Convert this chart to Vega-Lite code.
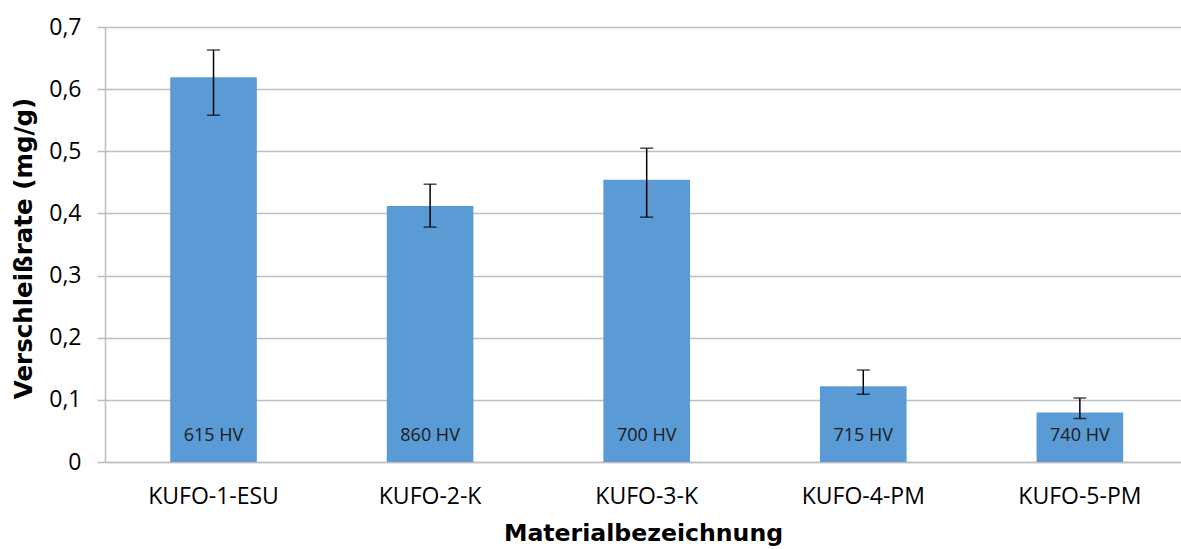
{
  "$schema": "https://vega.github.io/schema/vega-lite/v6.json",
  "width": 1076,
  "height": 435,
  "autosize": {"type": "none"},
  "padding": {"left": 105, "top": 27, "right": 0, "bottom": 87},
  "background": "white",
  "config": {
    "view": {"stroke": null},
    "font": "Open Sans"
  },
  "data": {
    "values": [
      {"material": "KUFO-1-ESU", "rate": 0.619, "lo": 0.558, "hi": 0.663, "haerte": "615 HV"},
      {"material": "KUFO-2-K", "rate": 0.412, "lo": 0.378, "hi": 0.447, "haerte": "860 HV"},
      {"material": "KUFO-3-K", "rate": 0.454, "lo": 0.394, "hi": 0.505, "haerte": "700 HV"},
      {"material": "KUFO-4-PM", "rate": 0.122, "lo": 0.109, "hi": 0.148, "haerte": "715 HV"},
      {"material": "KUFO-5-PM", "rate": 0.0795, "lo": 0.070, "hi": 0.103, "haerte": "740 HV"}
    ]
  },
  "encoding": {
    "x": {
      "field": "material",
      "type": "nominal",
      "sort": null,
      "scale": {"paddingInner": 0.6, "paddingOuter": 0.284, "align": 0.53},
      "axis": {
        "title": "Materialbezeichnung",
        "titleFont": "DejaVu Sans",
        "titleFontSize": 23.6,
        "titleFontWeight": "bold",
        "titleColor": "#000000",
        "titleX": 538,
        "titleY": 71,
        "titleBaseline": "middle",
        "titleAlign": "center",
        "labelAngle": 0,
        "labelFont": "Open Sans",
        "labelFontSize": 23,
        "labelColor": "#000000",
        "labelPadding": 23,
        "ticks": false,
        "tickSize": 0,
        "domainColor": "#BEBEBE",
        "domainWidth": 1.5,
        "grid": false
      }
    }
  },
  "layer": [
    {
      "mark": {"type": "bar", "color": "#5B9BD5"},
      "encoding": {
        "y": {
          "field": "rate",
          "type": "quantitative",
          "scale": {"domain": [0, 0.7], "nice": false, "zero": true},
          "axis": {
            "title": "Verschleißrate (mg/g)",
            "titleFont": "DejaVu Sans",
            "titleFontSize": 24.5,
            "titleFontWeight": "bold",
            "titleColor": "#000000",
            "titleAngle": -90,
            "titleX": -81,
            "titleY": 221,
            "titleAlign": "center",
            "titleBaseline": "middle",
            "values": [0, 0.1, 0.2, 0.3, 0.4, 0.5, 0.6, 0.7],
            "labelExpr": "datum.value == 0 ? '0' : replace(format(datum.value, '.1f'), '.', ',')",
            "labelFont": "Open Sans",
            "labelFontSize": 23,
            "labelColor": "#000000",
            "labelPadding": 16,
            "tickSize": 8,
            "tickColor": "#BEBEBE",
            "tickWidth": 1.5,
            "domainColor": "#BEBEBE",
            "domainWidth": 1.5,
            "grid": true,
            "gridColor": "#BEBEBE",
            "gridWidth": 1.5
          }
        }
      }
    },
    {
      "mark": {"type": "rule", "color": "#000000", "strokeWidth": 1.5},
      "encoding": {
        "y": {"field": "lo", "type": "quantitative"},
        "y2": {"field": "hi"}
      }
    },
    {
      "mark": {"type": "tick", "color": "#000000", "thickness": 1.5, "size": 13, "orient": "horizontal"},
      "encoding": {
        "y": {"field": "lo", "type": "quantitative"}
      }
    },
    {
      "mark": {"type": "tick", "color": "#000000", "thickness": 1.5, "size": 13, "orient": "horizontal"},
      "encoding": {
        "y": {"field": "hi", "type": "quantitative"}
      }
    },
    {
      "mark": {"type": "text", "font": "Open Sans", "fontSize": 18, "color": "#1a1a1a", "baseline": "middle", "align": "center", "dy": -26},
      "encoding": {
        "y": {"datum": 0, "type": "quantitative"},
        "text": {"field": "haerte"}
      }
    }
  ]
}
